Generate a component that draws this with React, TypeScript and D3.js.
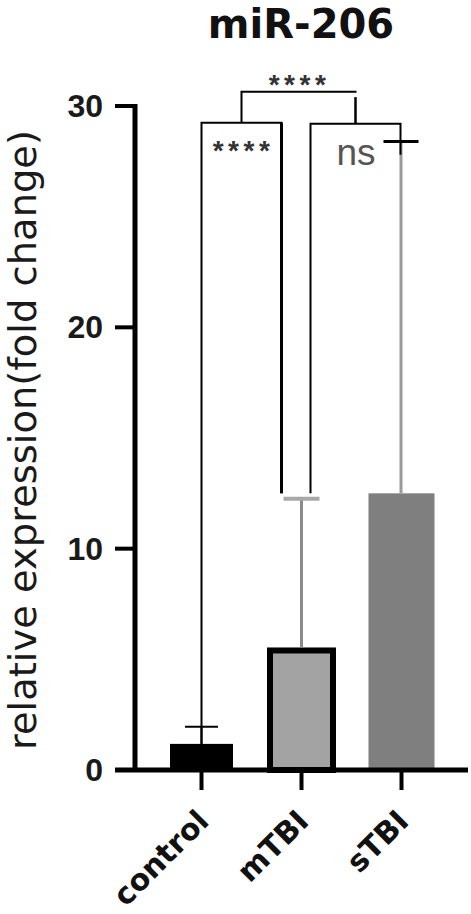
import React from "react";
import * as d3 from "d3";

const categories = ["control", "mTBI", "sTBI"];
const means = [1.18, 5.4, 12.5];
const errorTops = [1.95, 12.26, 28.4];
const yTicks = [0, 10, 20, 30];
const title = "miR-206";
const yLabel = "relative expression(fold change)";
const sigLabels = ["****", "ns", "****"];

const W = 471;
const H = 914;

export default function App() {
  const x = d3.scalePoint<string>().domain(categories).range([201.5, 401.5]);
  const y = d3.scaleLinear().domain([0, 30]).range([770, 106]);
  const axisX = 135;
  const base = y(0);

  const fills = ["#000000", "#a3a3a3", "#7f7f7f"];
  const barW = 64;

  const cx = categories.map((c) => x(c) as number);

  // bracket geometry (data units)
  const b1Top = 29.24;
  const b2Top = 29.2;
  const topBr = 30.64;

  const b1L = cx[0];
  const b1R = cx[1] - 20;
  const b2L = cx[1] + 9;
  const b2R = cx[2] - 1;
  const tL = (b1L + b1R) / 2;
  const tR = (b2L + b2R) / 2;

  return (
    <div style={{ position: "absolute", left: 0, top: 0 }}>
      <svg width={W} height={H} viewBox={`0 0 ${W} ${H}`} style={{ display: "block", background: "#fff" }}>
        {/* title */}
        <text x={301} y={38} textAnchor="middle" fontFamily="DejaVu Sans" fontWeight="bold" fontSize={40} fill="#111">
          {title}
        </text>

        {/* y label */}
        <text
          transform={`translate(36, 440) rotate(-90)`}
          textAnchor="middle"
          fontFamily="DejaVu Sans"
          fontSize={37}
          textLength={620}
          lengthAdjust="spacingAndGlyphs"
          fill="#1a1a1a"
        >
          {yLabel}
        </text>

        {/* bars */}
        {categories.map((c, i) =>
          i === 1 ? (
            <rect
              key={c}
              x={cx[i] - barW / 2 + 0.5}
              y={y(means[i])}
              width={barW - 1}
              height={base - y(means[i])}
              fill={fills[i]}
              stroke="#000"
              strokeWidth={6}
            />
          ) : (
            <rect
              key={c}
              x={cx[i] - (i === 0 ? 31.5 : 33)}
              y={y(means[i])}
              width={i === 0 ? 63 : 66}
              height={base - y(means[i])}
              fill={fills[i]}
            />
          )
        )}

        {/* error bars */}
        <line x1={cx[0]} x2={cx[0]} y1={y(means[0])} y2={y(errorTops[0])} stroke="#000" strokeWidth={2} />
        <line x1={cx[0] - 16.5} x2={cx[0] + 16.5} y1={y(errorTops[0])} y2={y(errorTops[0])} stroke="#000" strokeWidth={2} />

        <line x1={cx[1]} x2={cx[1]} y1={y(means[1]) - 3} y2={y(errorTops[1])} stroke="#8a8a8a" strokeWidth={3} />
        <line x1={cx[1] - 18} x2={cx[1] + 18} y1={y(errorTops[1])} y2={y(errorTops[1])} stroke="#a8a8a8" strokeWidth={4} />

        <line x1={cx[2] - 0.5} x2={cx[2] - 0.5} y1={y(means[2])} y2={y(errorTops[2])} stroke="#9a9a9a" strokeWidth={3} />
        <line x1={cx[2] - 18} x2={cx[2] + 17} y1={y(errorTops[2])} y2={y(errorTops[2])} stroke="#000" strokeWidth={3} />

        {/* bracket control vs mTBI */}
        <path
          d={`M${b1L},${y(means[0])} V${y(b1Top)} H${b1R} V${y(means[2])}`}
          fill="none"
          stroke="#000"
          strokeWidth={2}
        />
        <line x1={b1R} x2={b1R} y1={y(b1Top)} y2={y(means[2])} stroke="#000" strokeWidth={3} />
        {/* bracket mTBI vs sTBI */}
        <path
          d={`M${b2L},${y(means[2])} V${y(b2Top)} H${b2R} V${y(27.8)}`}
          fill="none"
          stroke="#000"
          strokeWidth={2}
        />
        {/* top bracket */}
        <path
          d={`M${tL},${y(b1Top)} V${y(topBr)} H${tR + 1}`}
          fill="none"
          stroke="#000"
          strokeWidth={2}
        />
        <line x1={tR} x2={tR} y1={y(30.4)} y2={y(b2Top)} stroke="#000" strokeWidth={2.5} />

        {/* significance labels */}
        <text x={243.5} y={160} textAnchor="middle" fontFamily="Liberation Sans" fontWeight="bold" fontSize={28} letterSpacing={4.5} fill="#333">
          {sigLabels[0]}
        </text>
        <text x={356} y={165} textAnchor="middle" fontFamily="Liberation Sans" fontSize={37} fill="#555">
          {sigLabels[1]}
        </text>
        <text x={299.5} y={94} textAnchor="middle" fontFamily="Liberation Sans" fontWeight="bold" fontSize={28} letterSpacing={4.5} fill="#333">
          {sigLabels[2]}
        </text>

        {/* y axis */}
        <line x1={axisX} x2={axisX} y1={y(30) - 2} y2={base} stroke="#000" strokeWidth={5} />
        {yTicks.map((t) => (
          <g key={t}>
            <line x1={115} x2={axisX} y1={y(t)} y2={y(t)} stroke="#000" strokeWidth={4} />
            <text
              x={103}
              y={y(t) + 11}
              textAnchor="end"
              fontFamily="Liberation Sans"
              fontWeight="bold"
              fontSize={32}
              fill="#1a1a1a"
            >
              {t}
            </text>
          </g>
        ))}

        {/* x axis */}
        <line x1={115} x2={468} y1={base} y2={base} stroke="#000" strokeWidth={5} />
        {categories.map((c, i) => (
          <g key={c}>
            <line x1={cx[i]} x2={cx[i]} y1={base} y2={base + 20} stroke="#000" strokeWidth={4} />
            <text
              transform={`translate(${cx[i] + 9}, ${base + 53}) rotate(-45)`}
              textAnchor="end"
              fontFamily="DejaVu Sans"
              fontWeight="bold"
              fontSize={30}
              fill="#111"
            >
              {c}
            </text>
          </g>
        ))}
      </svg>
    </div>
  );
}
